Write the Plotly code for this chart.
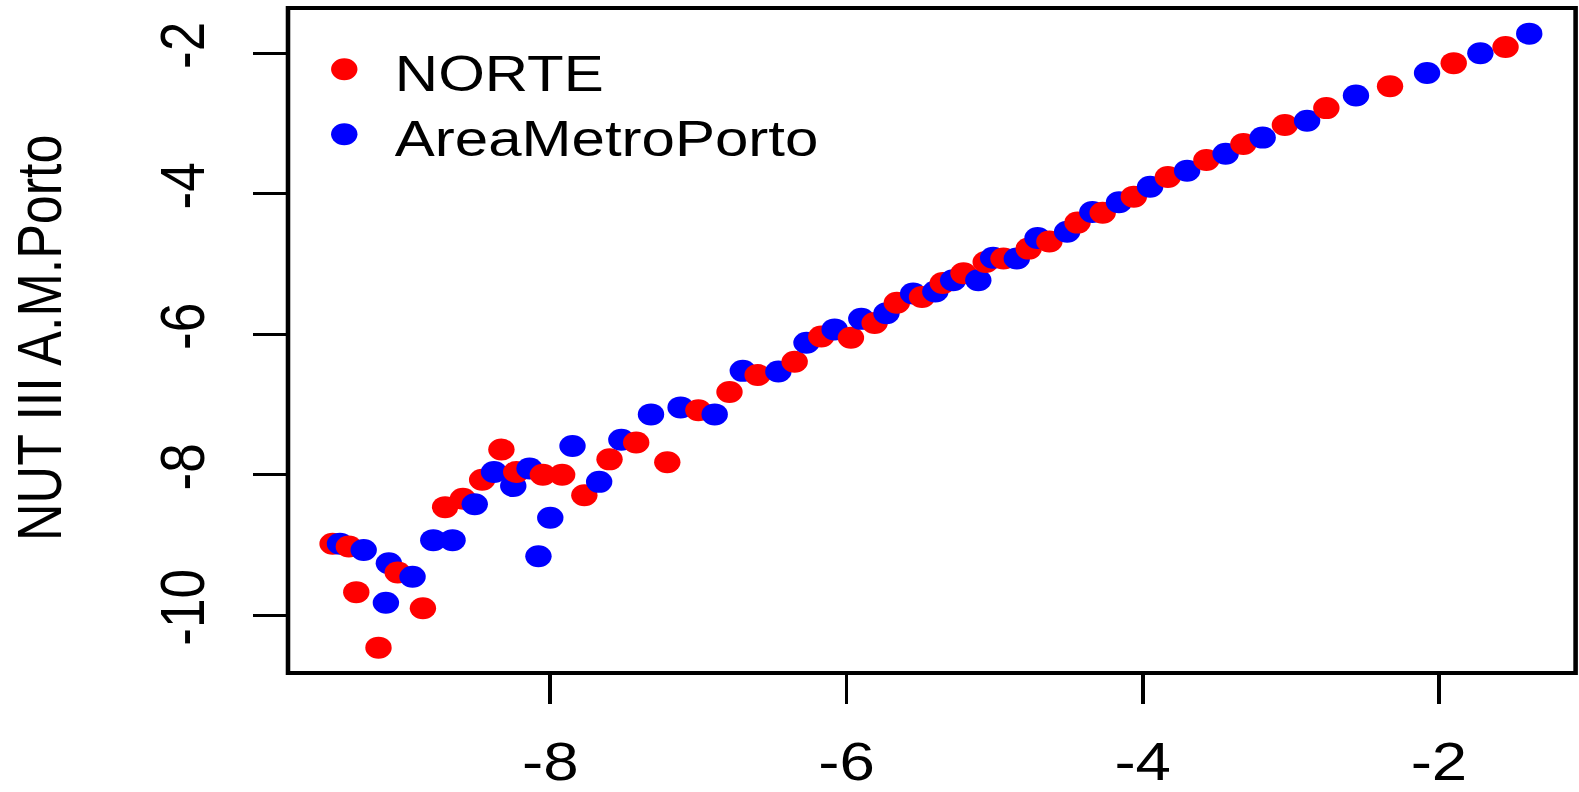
import plotly.graph_objects as go

# NORTE series
norte_x = [-9.47, -9.36, -9.31, -9.16, -9.03, -8.86, -8.71, -8.59, -8.46, -8.33,
           -8.23, -8.05, -7.92, -7.77, -7.60, -7.42, -7.21, -7.00, -6.79, -6.60,
           -6.35, -6.17, -5.97, -5.81, -5.66, -5.49, -5.35, -5.21, -5.06, -4.94,
           -4.77, -4.63, -4.44, -4.27, -4.06, -3.83, -3.57, -3.32, -3.04, -2.76,
           -2.33, -1.90, -1.55]
norte_y = [-8.98, -9.02, -9.67, -10.46, -9.39, -9.90, -8.46, -8.34, -8.07, -7.64,
           -7.96, -8.00, -8.00, -8.29, -7.78, -7.54, -7.82, -7.08, -6.82, -6.58,
           -6.39, -6.03, -6.05, -5.84, -5.55, -5.47, -5.27, -5.13, -4.97, -4.92,
           -4.78, -4.68, -4.41, -4.27, -4.04, -3.76, -3.52, -3.29, -3.02, -2.78,
           -2.47, -2.14, -1.91]

# AreaMetroPorto series
amp_x = [-9.42, -9.26, -9.09, -9.11, -8.93, -8.79, -8.66, -8.51, -8.38, -8.25,
         -8.14, -8.08, -8.00, -7.85, -7.67, -7.52, -7.32, -7.12, -6.89, -6.70,
         -6.46, -6.27, -6.08, -5.90, -5.73, -5.55, -5.40, -5.28, -5.11, -5.01,
         -4.85, -4.71, -4.51, -4.34, -4.16, -3.95, -3.70, -3.44, -3.19, -2.89,
         -2.56, -2.08, -1.72, -1.39]
amp_y = [-8.98, -9.07, -9.26, -9.82, -9.45, -8.93, -8.93, -8.42, -7.96, -8.16,
         -7.91, -9.16, -8.61, -7.59, -8.10, -7.50, -7.14, -7.04, -7.14, -6.52,
         -6.53, -6.12, -5.93, -5.78, -5.70, -5.42, -5.39, -5.23, -5.23, -4.91,
         -4.92, -4.63, -4.54, -4.26, -4.12, -3.90, -3.67, -3.43, -3.20, -2.96,
         -2.60, -2.28, -2.00, -1.72]

series_names = ["NORTE", "AreaMetroPorto"]
series_colors = ["#FF0000", "#0000FF"]

x_ticks = [-8, -6, -4, -2]
y_ticks = [-10, -8, -6, -4, -2]

X_RANGE = [-9.771, -1.077]
Y_RANGE = [-10.821, -1.355]

FONT = "Liberation Sans, Arial, sans-serif"
STRETCH = 1.2          # horizontal stretch applied to the rendered figure
W, H = 1316, 792

# points drawn in order of x so later points overlap earlier ones
pts = [(x, y, series_colors[0]) for x, y in zip(norte_x, norte_y)] + \
      [(x, y, series_colors[1]) for x, y in zip(amp_x, amp_y)]
pts.sort(key=lambda p: p[0])

fig = go.Figure()
fig.add_trace(go.Scatter(
    x=[p[0] for p in pts], y=[p[1] for p in pts], mode="markers",
    marker=dict(size=22, color=[p[2] for p in pts], line=dict(width=0)),
    showlegend=False, hoverinfo="skip"))

axis_common = dict(showgrid=False, zeroline=False, showline=False, automargin=False,
                   ticks="outside", tickcolor="black",
                   tickfont=dict(family=FONT, size=53, color="black"))

fig.update_xaxes(range=X_RANGE, tickvals=x_ticks, ticktext=[str(v) for v in x_ticks],
                 ticklen=30, tickwidth=2.6, ticklabelstandoff=12, **axis_common)
fig.update_yaxes(range=Y_RANGE, tickvals=y_ticks, ticktext=[str(v) for v in y_ticks],
                 ticklen=28, tickwidth=3.2, tickangle=-90, ticklabelstandoff=20,
                 **axis_common)

# plot frame
fig.add_shape(type="rect", xref="paper", yref="paper", x0=0, x1=1, y0=0, y1=1,
              line=dict(color="black", width=3.8), fillcolor="rgba(0,0,0,0)", layer="above")

# legend: symbol + label for each series
leg_sym_x = 0.0437
leg_rows_y = [0.9078, 0.8101]
leg_text_x = 0.0811
for name, color, yy in zip(series_names, series_colors, leg_rows_y):
    fig.add_shape(type="circle", xref="paper", yref="paper",
                  xsizemode="pixel", ysizemode="pixel",
                  xanchor=leg_sym_x, yanchor=yy, x0=-11, x1=11, y0=-11, y1=11,
                  fillcolor=color, line=dict(width=0))
    fig.add_annotation(xref="paper", yref="paper", x=leg_text_x, y=yy - 0.007,
                       text=name, showarrow=False, xanchor="left", yanchor="middle",
                       font=dict(family=FONT, size=50, color="black"))

# y axis title
fig.add_annotation(xref="paper", yref="paper", x=-0.1934, y=0.5045,
                   text="NUT III A.M.Porto", showarrow=False, textangle=-90,
                   xanchor="center", yanchor="middle",
                   font=dict(family=FONT, size=52, color="black"))

fig.update_layout(template="none", width=W, height=H, autosize=False,
                  margin=dict(l=240, r=3, t=8, b=119),
                  paper_bgcolor="white", plot_bgcolor="white")

post = ("document.body.style.margin='0';document.body.style.overflow='hidden';"
        "var gd=document.getElementById('{plot_id}');"
        "gd.style.transformOrigin='0 0';gd.style.transform='scaleX(%s)';" % STRETCH)

fig.write_html("out.html", post_script=post)
